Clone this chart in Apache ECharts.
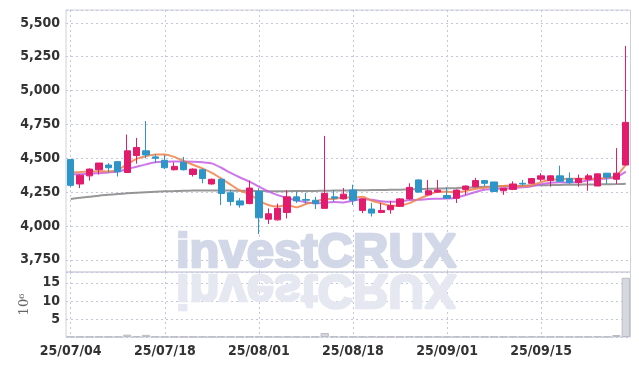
<!DOCTYPE html>
<html>
<head>
<meta charset="utf-8">
<script src="https://cdn.jsdelivr.net/npm/echarts@6/dist/echarts.min.js"></script>
<style>
  html, body { margin: 0; padding: 0; background: #fff; }
  #chart { width: 639px; height: 366px; }
</style>
</head>
<body>
<div id="chart"></div>
<script>
// trading days, 2025-07-04 .. 2025-09-26
const dates = [
  '25/07/04', '25/07/07', '25/07/08', '25/07/09', '25/07/10', '25/07/11', '25/07/14', '25/07/15', '25/07/16', '25/07/17',
  '25/07/18', '25/07/21', '25/07/22', '25/07/23', '25/07/24', '25/07/25', '25/07/28', '25/07/29', '25/07/30', '25/07/31',
  '25/08/01', '25/08/04', '25/08/05', '25/08/06', '25/08/07', '25/08/08', '25/08/11', '25/08/12', '25/08/13', '25/08/14',
  '25/08/18', '25/08/19', '25/08/20', '25/08/21', '25/08/22', '25/08/25', '25/08/26', '25/08/27', '25/08/28', '25/08/29',
  '25/09/01', '25/09/02', '25/09/03', '25/09/04', '25/09/05', '25/09/08', '25/09/09', '25/09/10', '25/09/11', '25/09/12',
  '25/09/15', '25/09/16', '25/09/17', '25/09/18', '25/09/19', '25/09/22', '25/09/23', '25/09/24', '25/09/25', '25/09/26'
];

const opens = [
  4490, 4310, 4370, 4415, 4450, 4475, 4395, 4520, 4555, 4510,
  4485, 4415, 4470, 4380, 4415, 4310, 4345, 4245, 4185, 4165,
  4255, 4050, 4045, 4100, 4215, 4195, 4190, 4130, 4215, 4200,
  4265, 4115, 4125, 4100, 4120, 4145, 4200, 4340, 4230, 4250,
  4225, 4205, 4270, 4290, 4335, 4325, 4260, 4270, 4315, 4315,
  4345, 4335, 4370, 4350, 4320, 4345, 4295, 4390, 4345, 4450
];
const closes = [
  4300, 4375, 4420, 4465, 4430, 4400, 4555, 4580, 4525, 4500,
  4430, 4440, 4415, 4420, 4350, 4345, 4240, 4180, 4155, 4280,
  4060, 4090, 4130, 4215, 4185, 4190, 4165, 4240, 4205, 4235,
  4190, 4200, 4095, 4115, 4150, 4200, 4285, 4250, 4260, 4265,
  4205, 4265, 4295, 4335, 4315, 4255, 4280, 4310, 4310, 4350,
  4370, 4370, 4330, 4320, 4350, 4370, 4385, 4360, 4390, 4765
];
const lows = [
  4285, 4280, 4335, 4380, 4395, 4365, 4395, 4460, 4500, 4465,
  4420, 4410, 4410, 4365, 4315, 4305, 4155, 4150, 4135, 4160,
  3940, 4015, 4040, 4055, 4170, 4165, 4125, 4130, 4180, 4195,
  4155, 4095, 4070, 4095, 4090, 4140, 4195, 4245, 4225, 4245,
  4200, 4170, 4230, 4285, 4295, 4250, 4230, 4265, 4300, 4310,
  4330, 4290, 4325, 4310, 4290, 4260, 4295, 4310, 4310, 4450
];
const highs = [
  4490, 4380, 4425, 4465, 4465, 4475, 4675, 4650, 4775, 4530,
  4525, 4470, 4510, 4425, 4425, 4350, 4350, 4265, 4205, 4335,
  4280, 4130, 4165, 4265, 4255, 4245, 4215, 4665, 4265, 4280,
  4305, 4205, 4170, 4170, 4185, 4205, 4315, 4345, 4340, 4340,
  4285, 4270, 4300, 4355, 4340, 4325, 4280, 4330, 4340, 4355,
  4390, 4375, 4445, 4395, 4380, 4385, 4385, 4390, 4575, 5330
];

const ma5 = [
  4395, 4398, 4402, 4405, 4402, 4415, 4455, 4495, 4515, 4528,
  4528, 4510, 4480, 4452, 4425, 4392, 4350, 4305, 4262, 4235,
  4188, 4155, 4143, 4155, 4138, 4162, 4178, 4200, 4200, 4212,
  4210, 4215, 4186, 4168, 4150, 4152, 4169, 4200, 4229, 4252,
  4253, 4249, 4259, 4273, 4283, 4293, 4296, 4298, 4293, 4300,
  4324, 4342, 4346, 4348, 4348, 4348, 4351, 4357, 4371, 4453
];
const ma10 = [
  4380, 4382, 4385, 4390, 4395, 4402, 4420, 4438, 4455, 4470,
  4474, 4476, 4476, 4474, 4470, 4462, 4430, 4392, 4358, 4328,
  4290, 4256, 4228, 4207, 4190, 4175, 4167, 4172, 4177, 4174,
  4186, 4197, 4193, 4183, 4179, 4180, 4192, 4193, 4199, 4201,
  4203, 4209, 4229, 4251, 4268, 4273, 4275, 4280, 4285, 4294,
  4308, 4319, 4322, 4321, 4324, 4336, 4346, 4351, 4360, 4401
];
const maLong = [
  4200, 4208, 4216, 4224, 4230, 4236, 4241, 4245, 4249, 4253,
  4256, 4258, 4260, 4261, 4262, 4262, 4262, 4261, 4260, 4260,
  4258, 4257, 4257, 4257, 4258, 4258, 4259, 4260, 4261, 4262,
  4263, 4264, 4265, 4266, 4267, 4268, 4270, 4272, 4274, 4276,
  4278, 4280, 4283, 4286, 4289, 4291, 4293, 4295, 4297, 4299,
  4301, 4302, 4303, 4304, 4305, 4306, 4307, 4308, 4309, 4312
];

// volume, millions of shares
const volumes = [
  0.12, 0.08, 0.07, 0.10, 0.06, 0.09, 0.65, 0.15, 0.60, 0.12,
  0.08, 0.06, 0.07, 0.05, 0.08, 0.06, 0.10, 0.09, 0.07, 0.11,
  0.14, 0.09, 0.08, 0.10, 0.06, 0.05, 0.07, 1.10, 0.12, 0.08,
  0.09, 0.07, 0.10, 0.06, 0.07, 0.08, 0.12, 0.09, 0.07, 0.08,
  0.06, 0.09, 0.10, 0.12, 0.07, 0.08, 0.06, 0.09, 0.07, 0.10,
  0.11, 0.09, 0.12, 0.08, 0.07, 0.09, 0.13, 0.10, 0.55, 16.4
];

const labelFont = '"Liberation Sans Narrow", "DejaVu Sans Condensed", sans-serif';
const markFont = 'bold 49px "Liberation Sans", Arial, sans-serif';
const gridLine = { color: '#c3c8dc', type: [2, 3], width: 1 };
const labelStyle = { color: '#333', fontFamily: labelFont, fontSize: 14, fontWeight: 'bold' };

const candles = dates.map((d, i) => [opens[i], closes[i], lows[i], highs[i]]);

const chart = echarts.init(document.getElementById('chart'));

const maLine = (name, data, color) => ({
  name: name,
  type: 'line',
  xAxisIndex: 0,
  yAxisIndex: 0,
  data: data,
  smooth: 0.25,
  showSymbol: false,
  z: 2,
  lineStyle: { color: color, width: 2, opacity: 0.85 }
});

chart.setOption({
  animation: false,
  backgroundColor: '#fff',
  graphic: [
    {
      type: 'text', x: 176, y: 278, z: 1, silent: true,
      style: { text: 'investCRUX', font: markFont, fill: '#d3d8e8', stroke: '#d3d8e8', lineWidth: 2.5, verticalAlign: 'bottom' }
    },
    {
      type: 'text', x: 176, y: 264, scaleY: -1, z: 1, silent: true,
      style: { text: 'investCRUX', font: markFont, fill: '#e5e8f1', stroke: '#e5e8f1', lineWidth: 2.5, verticalAlign: 'bottom' }
    }
  ],
  grid: [
    { left: 66, right: 8.5, top: 10, height: 262, show: true, borderColor: '#cdd0dc', borderWidth: 1 },
    { left: 66, right: 8.5, top: 272, height: 65, show: true, borderColor: '#cdd0dc', borderWidth: 1 }
  ],
  xAxis: [
    {
      type: 'category', gridIndex: 0, data: dates, boundaryGap: true,
      axisLine: { show: false }, axisTick: { show: false }, axisLabel: { show: false },
      splitLine: { show: true, interval: 9, alignWithLabel: true, lineStyle: gridLine }
    },
    {
      type: 'category', gridIndex: 1, data: dates, boundaryGap: true,
      axisLine: { show: false }, axisTick: { show: false },
      axisLabel: Object.assign({ interval: 9, margin: 7 }, labelStyle),
      splitLine: { show: true, interval: 9, alignWithLabel: true, lineStyle: gridLine }
    }
  ],
  yAxis: [
    {
      type: 'value', gridIndex: 0, min: 3660, max: 5595,
      minInterval: 250, maxInterval: 250, splitNumber: 8,
      axisLine: { show: false }, axisTick: { show: false },
      axisLabel: Object.assign({
        showMinLabel: false, showMaxLabel: false, margin: 6,
        formatter: v => v.toLocaleString('en-US')
      }, labelStyle),
      splitLine: { show: true, lineStyle: gridLine }
    },
    {
      type: 'value', gridIndex: 1, min: 0, max: 18, interval: 5,
      name: '10\u2076', nameLocation: 'middle', nameRotate: 90, nameGap: 30,
      nameTextStyle: { color: '#666', fontFamily: '"DejaVu Serif", serif', fontSize: 13 },
      axisLine: { show: false }, axisTick: { show: false },
      axisLabel: Object.assign({ showMinLabel: false, showMaxLabel: false, margin: 6 }, labelStyle),
      splitLine: { show: true, lineStyle: gridLine }
    }
  ],
  series: [
    maLine('MA long', maLong, '#858585'),
    maLine('MA10', ma10, '#c45ee6'),
    maLine('MA5', ma5, '#f0814a'),
    {
      name: 'price',
      type: 'candlestick',
      xAxisIndex: 0,
      yAxisIndex: 0,
      data: candles,
      barWidth: '72%',
      z: 3,
      itemStyle: {
        color: '#e31b6d', color0: '#2d95c8',
        borderColor: '#e31b6d', borderColor0: '#2d95c8', borderWidth: 1
      }
    },
    {
      name: 'volume',
      type: 'bar',
      xAxisIndex: 1,
      yAxisIndex: 1,
      data: volumes,
      barWidth: '88%',
      z: 3,
      itemStyle: { color: '#d6d7df', borderColor: '#babbc6', borderWidth: 1 }
    }
  ]
});
</script>
</body>
</html>
